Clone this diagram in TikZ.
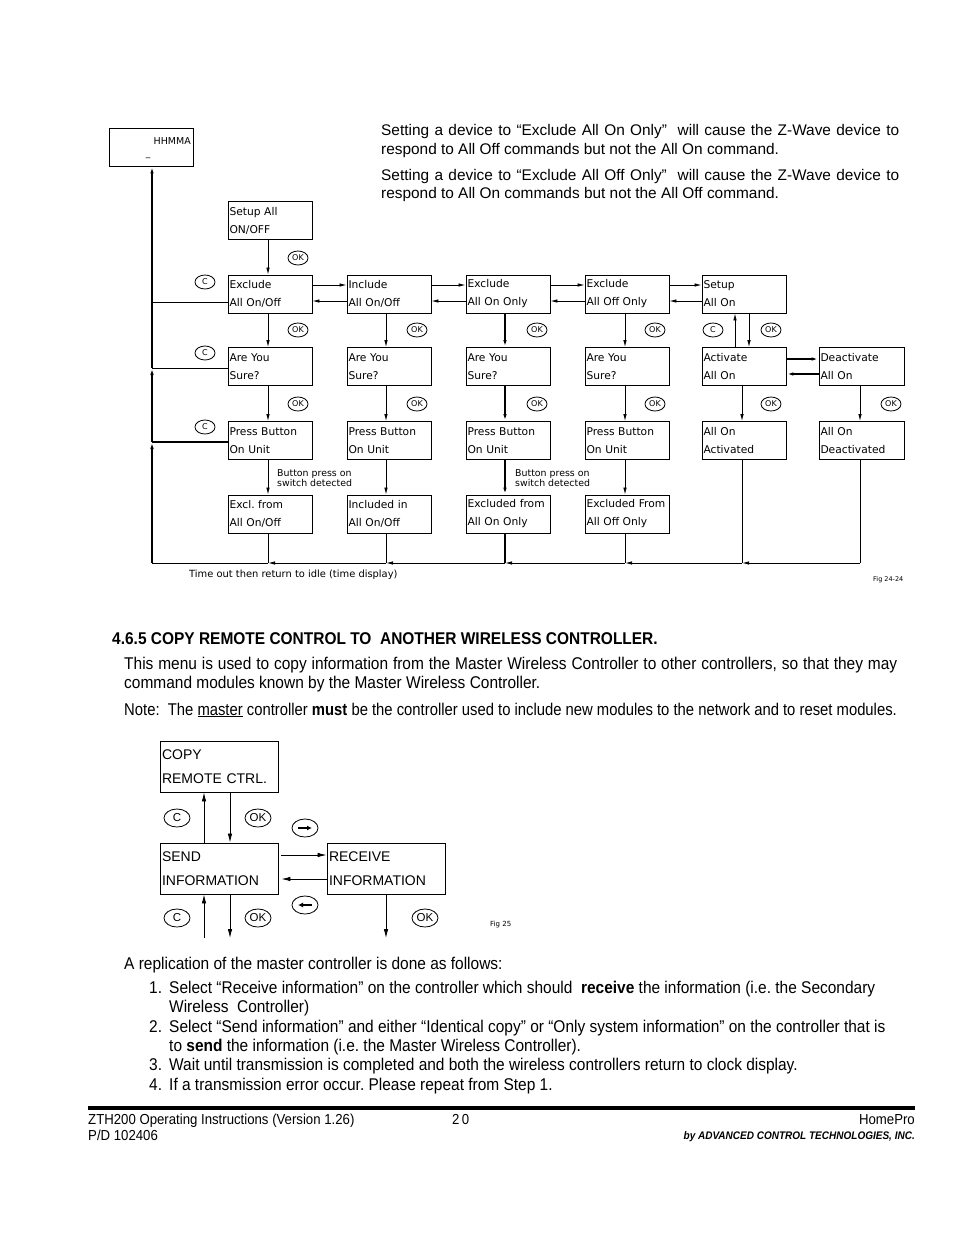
\documentclass[tikz,border=0pt]{standalone}
\usepackage{fontspec}
\usepackage{graphicx}
\setmainfont{Liberation Sans}
\newfontfamily\narrowfont[FakeStretch=0.91]{Liberation Sans}
\newfontfamily\plotfont{DejaVu Sans}
\usetikzlibrary{arrows.meta,shapes.geometric,calc}
\begin{document}
\frenchspacing
\begin{tikzpicture}[x=1pt,y=-1pt,
  box/.style={draw, line width=0.9pt, minimum height=38pt, inner xsep=1.5pt, inner ysep=0pt,
              align=left, text width=81pt, font=\plotfont\fontsize{10.7}{18}\selectfont},
  wbox/.style={box, text width=82pt},
  bigbox/.style={draw, line width=0.9pt, minimum height=51pt, inner xsep=2pt, inner ysep=0pt,
              align=left, text width=114pt, font=\fontsize{14}{24.5}\selectfont},
  key/.style={ellipse, draw, line width=0.8pt, minimum width=20pt, minimum height=14pt,
              inner sep=0pt, font=\plotfont\fontsize{8}{8}\selectfont},
  bkey/.style={key, minimum width=26pt, minimum height=18pt, font=\fontsize{11.5}{11.5}\selectfont},
  arr/.style={-{Latex[length=7pt,width=3.5pt]}, line width=0.8pt},
  tarr/.style={arr, line width=1.8pt},
  larr/.style={-{Latex[length=9pt,width=4.5pt]}, line width=0.8pt},
  txt/.style={anchor=base west, inner sep=0pt},
  body/.style={txt, font=\fontsize{15.4}{17}\selectfont},
  nbody/.style={txt, font=\narrowfont\fontsize{17}{19}\selectfont},
  foot/.style={txt, font=\narrowfont\fontsize{14.5}{16}\selectfont},
  small/.style={anchor=west, inner sep=0pt, align=left, font=\plotfont\fontsize{9.4}{9.6}\selectfont}
]
\useasboundingbox[fill=white] (0,0) rectangle (954,1235);

% ---------- top paragraph ----------
\node[body] (pa1) at (381,135) {\makebox[518pt][s]{Setting a device to “Exclude All On Only”\ \ will cause the Z-Wave device to}};
\node[body] (pa2) at (381,154) {respond to All Off commands but not the All On command.};
\node[body] (pb1) at (381,180) {\makebox[518pt][s]{Setting a device to “Exclude All Off Only”\ \ will cause the Z-Wave device to}};
\node[body] (pb2) at (381,198) {respond to All On commands but not the All Off command.};

% ---------- top diagram ----------
\node[box] (hh) at (151.5,147) {};
\node[anchor=base east, inner sep=0pt, font=\plotfont\fontsize{9.5}{10}\selectfont] (hht) at (191,144) {HHMMA};
\node[inner sep=0pt, font=\plotfont\fontsize{9}{10}\selectfont] (cur) at (148,158) {\_};

\node[box] (setup) at (270,220.5) {Setup All\\ON/OFF};

\node[box] (ex1) at (270,294) {Exclude\\All On/Off};
\node[box] (in1) at (389,294) {Include\\All On/Off};
\node[box] (eon) at (508,294) {Exclude\\All On Only};
\node[box] (eoff) at (627,294) {Exclude\\All Off Only};
\node[box] (sup) at (744,294) {Setup\\All On};

\node[box] (s1) at (270,366.5) {Are You\\Sure?};
\node[box] (s2) at (389,366.5) {Are You\\Sure?};
\node[box] (s3) at (508,366.5) {Are You\\Sure?};
\node[box] (s4) at (627,366.5) {Are You\\Sure?};
\node[box] (act) at (744,366.5) {Activate\\All On};
\node[wbox] (deact) at (861.5,366.5) {Deactivate\\All On};

\node[box] (p1) at (270,440.5) {Press Button\\On Unit};
\node[box] (p2) at (389,440.5) {Press Button\\On Unit};
\node[box] (p3) at (508,440.5) {Press Button\\On Unit};
\node[box] (p4) at (627,440.5) {Press Button\\On Unit};
\node[box] (acted) at (744,440.5) {All On\\Activated};
\node[wbox] (deacted) at (861.5,440.5) {All On\\Deactivated};

\node[box] (r1) at (270,514) {Excl. from\\All On/Off};
\node[box] (r2) at (389,514) {Included in\\All On/Off};
\node[box] (r3) at (508,514) {Excluded from\\All On Only};
\node[box] (r4) at (627,514) {Excluded From\\All Off Only};

% keys
\node[key] (k0) at (298,258) {OK};
\node[key] (k1a) at (298,330) {OK};
\node[key] (k2a) at (417,330) {OK};
\node[key] (k3a) at (537,330) {OK};
\node[key] (k4a) at (655,330) {OK};
\node[key] (k5a) at (771,330) {OK};
\node[key] (c5) at (713,330) {C};
\node[key] (k1b) at (298,404) {OK};
\node[key] (k2b) at (417,404) {OK};
\node[key] (k3b) at (537,404) {OK};
\node[key] (k4b) at (655,404) {OK};
\node[key] (k5b) at (771,404) {OK};
\node[key] (k6b) at (891,404) {OK};
\node[key] (c1) at (205,282) {C};
\node[key] (c2) at (205,353) {C};
\node[key] (c3) at (205,427) {C};

% labels
\node[small] (bp1) at (277,478) {Button press on\\switch detected};
\node[small] (bp2) at (515,478) {Button press on\\switch detected};
\node[anchor=west, inner sep=0pt, font=\plotfont\fontsize{9.9}{10}\selectfont] (tout) at (189,575) {Time out then return to idle (time display)};
\node[anchor=west, inner sep=0pt, font=\plotfont\fontsize{6.5}{7}\selectfont] (fig1) at (873,580) {Fig 24-24};

% vertical arrows
\draw[arr] ([xshift=-2pt]setup.south) -- ([xshift=-2pt]ex1.north);
\foreach \a/\b/\s in {ex1/s1/-2, s1/p1/-2, p1/r1/-2, in1/s2/-3, s2/p2/-3, p2/r2/-3, eoff/s4/-2, s4/p4/-2, p4/r4/-2}
  \draw[arr] ([xshift=\s pt]\a.south) -- ([xshift=\s pt]\b.north);
\foreach \a/\b in {eon/s3, s3/p3, p3/r3}
  \draw[tarr] ([xshift=-3pt]\a.south) -- ([xshift=-3pt]\b.north);

% row 1 horizontals
\foreach \a/\b in {ex1/in1, in1/eon, eon/eoff, eoff/sup}{
  \draw[arr] (\a.east |- 0,285) -- (\b.west |- 0,285);
  \draw[arr] (\b.west |- 0,301) -- (\a.east |- 0,301);
}

% column 5 / 6
\draw[arr] (act.north -| 735,0) -- (sup.south -| 735,0);
\draw[arr] (sup.south -| 749,0) -- (act.north -| 749,0);
\draw[tarr] (act.east |- 0,359) -- (deact.west |- 0,359);
\draw[tarr] (deact.west |- 0,374) -- (act.east |- 0,374);
\draw[arr] (act.south -| 742,0) -- (acted.north -| 742,0);
\draw[arr] (deact.south -| 860,0) -- (deacted.north -| 860,0);

% bottom return line
\coordinate (b6) at (860,563);
\coordinate (b5) at (742,563);
\coordinate (b4) at (625,563);
\coordinate (b3) at (505,563);
\coordinate (b2) at (386,563);
\coordinate (b1) at (268,563);
\coordinate (b0) at (152,563);
\coordinate (l3) at (152,442);
\coordinate (l2) at (152,368);
\coordinate (l1) at (152,302);
\draw[line width=0.9pt] (deacted.south -| b6) -- (b6);
\draw[arr, line width=0.9pt] (b6) -- (b5);
\draw[arr, line width=0.9pt] (b5) -- (b4);
\draw[arr, line width=0.9pt] (b4) -- (b3);
\draw[arr, line width=0.9pt] (b3) -- (b2);
\draw[arr, line width=0.9pt] (b2) -- (b1);
\draw[line width=0.9pt] (b1) -- (b0);
\draw[line width=0.8pt] (acted.south -| b5) -- (b5);
\draw[line width=0.8pt] (r4.south -| b4) -- (b4);
\draw[line width=1.8pt] (r3.south -| b3) -- (b3);
\draw[line width=0.8pt] (r2.south -| b2) -- (b2);
\draw[line width=0.8pt] (r1.south -| b1) -- (b1);
\draw[tarr] (b0) -- (l3);
\draw[tarr] (l3) -- (l2);
\draw[tarr] (l2) -- (hh.south -| b0);
\draw[line width=1.4pt] (p1.west |- l3) -- (l3);
\draw[line width=0.8pt] (s1.west |- l2) -- (l2);
\draw[line width=0.8pt] (ex1.west |- l1) -- (l1);

% ---------- section text ----------
\node[txt, font=\narrowfont\bfseries\fontsize{17}{19}\selectfont] (head) at (112,644) {4.6.5 COPY REMOTE CONTROL TO\ \ ANOTHER WIRELESS CONTROLLER.};
\node[nbody] (m1) at (124,669) {\makebox[773pt][s]{This menu is used to copy information from the Master Wireless Controller to other controllers, so that they may}};
\node[nbody] (m2) at (124,688) {command modules known by the Master Wireless Controller.};
\node[nbody] (note) at (124,715) {\scalebox{0.958}[1]{Note:\ \ The \underline{master} controller \textbf{must} be the controller used to include new modules to the network and to reset modules.}};

% ---------- lower diagram ----------
\node[bigbox] (copy) at (219,766.5) {COPY\\REMOTE CTRL.};
\node[bigbox] (send) at (219,868.5) {SEND\\INFORMATION};
\node[bigbox] (recv) at (386,868.5) {RECEIVE\\INFORMATION};

\node[bkey] (lc1) at (177,818) {C};
\node[bkey] (lk1) at (258,818) {OK};
\node[bkey] (ar1) at (305,828) {};
\node[bkey] (ar2) at (305,905) {};
\node[bkey] (lc2) at (177,918) {C};
\node[bkey] (lk2) at (258,918) {OK};
\node[bkey] (lk3) at (425,918) {OK};
\draw[-{Latex[length=5pt,width=5pt]}, line width=2pt] ($(ar1.center)+(-7,0)$) -- ($(ar1.center)+(7,0)$);
\draw[-{Latex[length=5pt,width=5pt]}, line width=2pt] ($(ar2.center)+(7,0)$) -- ($(ar2.center)+(-7,0)$);
\node[anchor=west, inner sep=0pt, font=\plotfont\fontsize{7}{8}\selectfont] (fig2) at (490,925) {Fig 25};

\coordinate (sb1) at (204,938);
\coordinate (sb2) at (230,938);
\coordinate (rb) at (386,938);
\draw[larr] (send.north -| 204,0) -- (copy.south -| 204,0);
\draw[larr] (copy.south -| 230,0) -- (send.north -| 230,0);
\draw[larr, shorten <=3pt] (send.east |- 0,855) -- (recv.west |- 0,855);
\draw[larr, shorten >=3pt] (recv.west |- 0,879) -- (send.east |- 0,879);
\draw[larr] (sb1) -- (send.south -| sb1);
\draw[larr] (send.south -| sb2) -- (sb2);
\draw[larr] (recv.south -| rb) -- (rb);

% ---------- list ----------
\node[nbody] (rep) at (124,969) {A replication of the master controller is done as follows:};
\node[nbody] (n1) at (149,993) {1.};
\node[nbody] (i1a) at (169,993) {Select “Receive information” on the controller which should\ \ \textbf{receive} the information (i.e. the Secondary};
\node[nbody] (i1b) at (169,1012) {Wireless\ \ Controller)};
\node[nbody] (n2) at (149,1032) {2.};
\node[nbody] (i2a) at (169,1032) {Select “Send information” and either “Identical copy” or “Only system information” on the controller that is};
\node[nbody] (i2b) at (169,1051) {to \textbf{send} the information (i.e. the Master Wireless Controller).};
\node[nbody] (n3) at (149,1070) {3.};
\node[nbody] (i3) at (169,1070) {Wait until transmission is completed and both the wireless controllers return to clock display.};
\node[nbody] (n4) at (149,1090) {4.};
\node[nbody] (i4) at (169,1090) {If a transmission error occur. Please repeat from Step 1.};

% ---------- footer ----------
\draw[line width=4pt] (88,1108) -- (915,1108);
\node[foot] (f1) at (88,1124) {ZTH200 Operating Instructions (Version 1.26)};
\node[foot] (f2) at (452,1124) {2\,0};
\node[anchor=base east, inner sep=0pt, font=\narrowfont\fontsize{14.5}{16}\selectfont] (f3) at (915,1124) {HomePro};
\node[foot] (f4) at (88,1140) {P/D 102406};
\node[anchor=base east, inner sep=0pt, font=\narrowfont\bfseries\itshape\fontsize{11}{12}\selectfont] (f5) at (915,1139) {by ADVANCED CONTROL TECHNOLOGIES, INC.};
\end{tikzpicture}
\end{document}
